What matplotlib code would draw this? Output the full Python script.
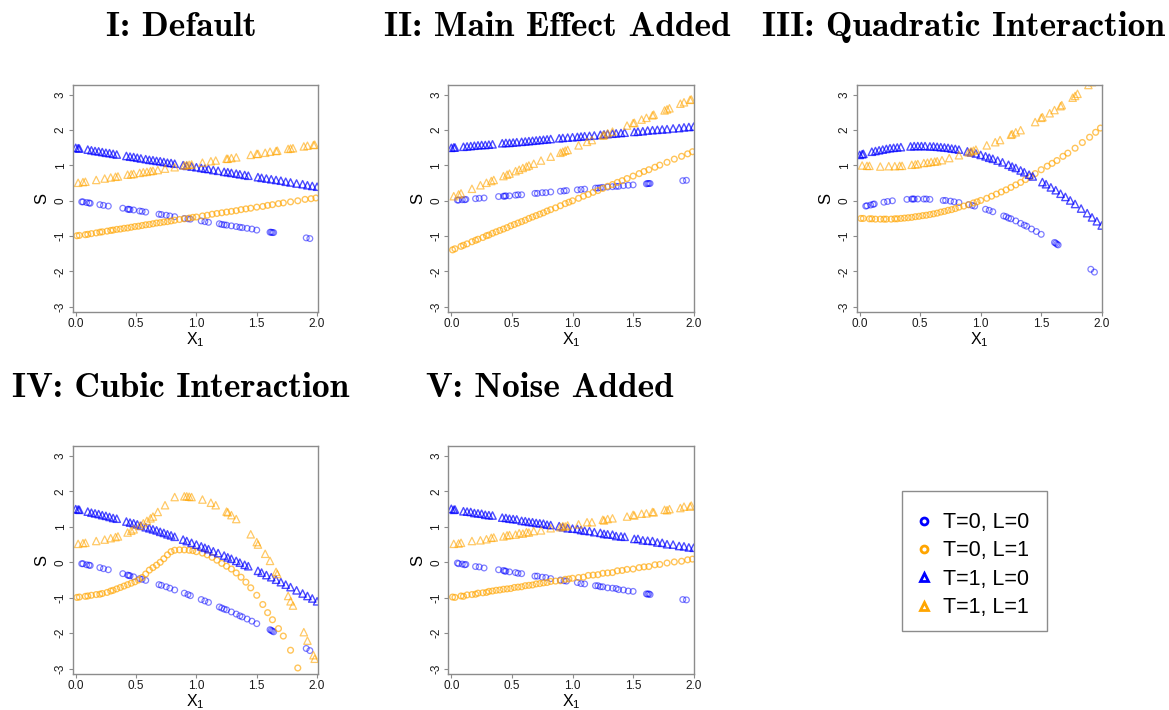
import matplotlib
matplotlib.use("Agg")
import matplotlib.pyplot as plt
from matplotlib.lines import Line2D
from matplotlib.patches import Rectangle
from matplotlib.colors import to_rgba

plt.rcParams['font.family'] = ['Liberation Sans', 'DejaVu Sans']
plt.rcParams['mathtext.default'] = 'regular'

# sampled X1 values for each group (shared by all five panels)
x_circ_blue = [0.05, 0.06, 0.09, 0.11, 0.12, 0.20, 0.23, 0.27, 0.39, 0.43, 0.44, 0.45, 0.48, 0.53, 0.55,
               0.58, 0.69, 0.71, 0.75, 0.78, 0.82, 0.90, 0.93, 0.95, 1.04, 1.07, 1.10, 1.19, 1.21, 1.23,
               1.25, 1.29, 1.33, 1.36, 1.38, 1.42, 1.46, 1.50, 1.61, 1.62, 1.63, 1.64, 1.91, 1.94]
x_circ_orange = [0.01, 0.03, 0.08, 0.10, 0.13, 0.17, 0.20, 0.22, 0.26, 0.29, 0.31, 0.34, 0.37, 0.40, 0.43,
                 0.46, 0.49, 0.52, 0.55, 0.58, 0.61, 0.64, 0.67, 0.70, 0.73, 0.76, 0.79, 0.82, 0.86, 0.90,
                 0.94, 0.97, 1.00, 1.05, 1.09, 1.13, 1.17, 1.21, 1.25, 1.29, 1.33, 1.37, 1.41, 1.45, 1.50,
                 1.55, 1.59, 1.63, 1.68, 1.72, 1.78, 1.84, 1.90, 1.95, 1.99]
x_tri_blue = [0.00, 0.02, 0.03, 0.10, 0.13, 0.16, 0.19, 0.22, 0.25, 0.28, 0.31, 0.34, 0.42, 0.45, 0.48,
              0.51, 0.54, 0.58, 0.61, 0.64, 0.67, 0.70, 0.73, 0.76, 0.79, 0.82, 0.89, 0.92, 0.96, 1.00,
              1.04, 1.07, 1.10, 1.14, 1.18, 1.23, 1.26, 1.29, 1.33, 1.36, 1.40, 1.43, 1.51, 1.54, 1.58,
              1.62, 1.66, 1.70, 1.74, 1.78, 1.83, 1.88, 1.92, 1.96, 2.00]
x_tri_orange = [0.02, 0.06, 0.08, 0.17, 0.24, 0.29, 0.33, 0.35, 0.43, 0.46, 0.48, 0.53, 0.56, 0.59, 0.62,
                0.64, 0.68, 0.74, 0.82, 0.90, 0.92, 0.94, 0.96, 1.05, 1.12, 1.16, 1.25, 1.26, 1.29, 1.33,
                1.45, 1.50, 1.51, 1.57, 1.61, 1.66, 1.67, 1.76, 1.78, 1.80, 1.89, 1.92, 1.97, 1.98]

# I: Default
s1_circ_blue = [-0.03, -0.03, -0.05, -0.06, -0.07, -0.11, -0.13, -0.15, -0.21, -0.24, -0.24, -0.25, -0.26, -0.29, -0.30,
                -0.32, -0.38, -0.39, -0.41, -0.43, -0.45, -0.50, -0.51, -0.52, -0.57, -0.59, -0.61, -0.65, -0.67, -0.68,
                -0.69, -0.71, -0.73, -0.75, -0.76, -0.78, -0.80, -0.83, -0.89, -0.89, -0.90, -0.90, -1.05, -1.07]
s1_circ_orange = [-0.99, -0.98, -0.96, -0.95, -0.93, -0.91, -0.89, -0.88, -0.86, -0.84, -0.83, -0.81, -0.80, -0.78, -0.77,
                  -0.75, -0.73, -0.72, -0.70, -0.68, -0.67, -0.65, -0.63, -0.62, -0.60, -0.59, -0.57, -0.55, -0.53, -0.51,
                  -0.49, -0.47, -0.46, -0.43, -0.41, -0.38, -0.36, -0.34, -0.32, -0.30, -0.28, -0.25, -0.23, -0.21, -0.18,
                  -0.16, -0.13, -0.11, -0.08, -0.06, -0.03, 0.00, 0.04, 0.06, 0.08]
s1_tri_blue = [1.50, 1.49, 1.48, 1.45, 1.43, 1.41, 1.40, 1.38, 1.36, 1.35, 1.33, 1.31, 1.27, 1.25, 1.24,
               1.22, 1.20, 1.18, 1.16, 1.15, 1.13, 1.12, 1.10, 1.08, 1.07, 1.05, 1.01, 0.99, 0.97, 0.95,
               0.93, 0.91, 0.90, 0.87, 0.85, 0.82, 0.81, 0.79, 0.77, 0.75, 0.73, 0.71, 0.67, 0.65, 0.63,
               0.61, 0.59, 0.57, 0.54, 0.52, 0.49, 0.47, 0.44, 0.42, 0.40]
s1_tri_orange = [0.51, 0.53, 0.54, 0.59, 0.63, 0.66, 0.68, 0.69, 0.74, 0.75, 0.76, 0.79, 0.81, 0.82, 0.84,
                 0.85, 0.87, 0.91, 0.95, 1.00, 1.01, 1.02, 1.03, 1.08, 1.12, 1.14, 1.19, 1.19, 1.21, 1.23,
                 1.30, 1.33, 1.33, 1.36, 1.39, 1.41, 1.42, 1.47, 1.48, 1.49, 1.54, 1.56, 1.58, 1.59]

# II: Main Effect Added
s2_circ_blue = [0.02, 0.02, 0.03, 0.03, 0.04, 0.06, 0.07, 0.08, 0.12, 0.13, 0.13, 0.14, 0.14, 0.16, 0.17,
                0.17, 0.21, 0.21, 0.23, 0.23, 0.25, 0.27, 0.28, 0.29, 0.31, 0.32, 0.33, 0.36, 0.36, 0.37,
                0.38, 0.39, 0.40, 0.41, 0.41, 0.43, 0.44, 0.45, 0.48, 0.49, 0.49, 0.49, 0.57, 0.58]
s2_circ_orange = [-1.39, -1.36, -1.29, -1.26, -1.22, -1.16, -1.12, -1.09, -1.04, -0.99, -0.97, -0.92, -0.88, -0.84, -0.80,
                  -0.76, -0.71, -0.67, -0.63, -0.59, -0.55, -0.50, -0.46, -0.42, -0.38, -0.34, -0.29, -0.25, -0.20, -0.14,
                  -0.08, -0.04, 0.00, 0.07, 0.13, 0.18, 0.24, 0.29, 0.35, 0.41, 0.46, 0.52, 0.57, 0.63, 0.70,
                  0.77, 0.83, 0.88, 0.95, 1.01, 1.09, 1.18, 1.26, 1.33, 1.39]
s2_tri_blue = [1.50, 1.51, 1.51, 1.53, 1.54, 1.55, 1.56, 1.57, 1.58, 1.58, 1.59, 1.60, 1.63, 1.64, 1.64,
               1.65, 1.66, 1.67, 1.68, 1.69, 1.70, 1.71, 1.72, 1.73, 1.74, 1.75, 1.77, 1.78, 1.79, 1.80,
               1.81, 1.82, 1.83, 1.84, 1.85, 1.87, 1.88, 1.89, 1.90, 1.91, 1.92, 1.93, 1.95, 1.96, 1.97,
               1.99, 2.00, 2.01, 2.02, 2.03, 2.05, 2.06, 2.08, 2.09, 2.10]
s2_tri_orange = [0.13, 0.18, 0.21, 0.34, 0.44, 0.51, 0.56, 0.59, 0.70, 0.74, 0.77, 0.84, 0.88, 0.93, 0.97,
                 1.00, 1.05, 1.14, 1.25, 1.36, 1.39, 1.42, 1.44, 1.57, 1.67, 1.72, 1.85, 1.86, 1.91, 1.96,
                 2.13, 2.20, 2.21, 2.30, 2.35, 2.42, 2.44, 2.56, 2.59, 2.62, 2.75, 2.79, 2.86, 2.87]

# III: Quadratic Interaction
s3_circ_blue = [-0.15, -0.14, -0.12, -0.10, -0.09, -0.04, -0.02, 0.00, 0.04, 0.05, 0.05, 0.05, 0.05, 0.05, 0.05,
                0.04, 0.01, 0.01, -0.01, -0.03, -0.05, -0.11, -0.13, -0.15, -0.24, -0.27, -0.31, -0.43, -0.45, -0.49,
                -0.51, -0.57, -0.64, -0.69, -0.72, -0.80, -0.87, -0.95, -1.18, -1.20, -1.23, -1.25, -1.94, -2.02]
s3_circ_orange = [-0.50, -0.50, -0.51, -0.51, -0.52, -0.52, -0.52, -0.52, -0.52, -0.51, -0.51, -0.50, -0.49, -0.48, -0.47,
                  -0.45, -0.44, -0.42, -0.41, -0.39, -0.37, -0.35, -0.32, -0.30, -0.27, -0.25, -0.22, -0.18, -0.15, -0.11,
                  -0.06, -0.03, 0.01, 0.07, 0.13, 0.19, 0.25, 0.31, 0.38, 0.45, 0.52, 0.60, 0.68, 0.77, 0.88,
                  0.98, 1.06, 1.14, 1.26, 1.35, 1.49, 1.65, 1.80, 1.94, 2.06]
s3_tri_blue = [1.30, 1.32, 1.33, 1.39, 1.41, 1.43, 1.45, 1.47, 1.49, 1.50, 1.51, 1.52, 1.54, 1.55, 1.55,
               1.55, 1.55, 1.54, 1.54, 1.53, 1.52, 1.51, 1.50, 1.48, 1.47, 1.45, 1.40, 1.37, 1.34, 1.30,
               1.26, 1.22, 1.19, 1.14, 1.09, 1.02, 0.97, 0.93, 0.86, 0.81, 0.74, 0.69, 0.53, 0.47, 0.38,
               0.30, 0.20, 0.11, 0.01, -0.09, -0.22, -0.35, -0.47, -0.58, -0.70]
s3_tri_orange = [1.00, 0.99, 0.99, 0.97, 0.98, 0.98, 0.99, 0.99, 1.02, 1.03, 1.04, 1.07, 1.08, 1.10, 1.11,
                 1.12, 1.15, 1.21, 1.29, 1.37, 1.40, 1.42, 1.45, 1.57, 1.66, 1.72, 1.87, 1.89, 1.94, 2.00,
                 2.23, 2.35, 2.37, 2.48, 2.57, 2.68, 2.71, 2.92, 2.97, 3.03, 3.28, 3.36, 3.50, 3.53]

# IV: Cubic Interaction
s4_circ_blue = [-0.04, -0.04, -0.07, -0.08, -0.09, -0.15, -0.18, -0.21, -0.32, -0.36, -0.37, -0.38, -0.41, -0.46, -0.48,
                -0.51, -0.63, -0.65, -0.69, -0.73, -0.78, -0.87, -0.91, -0.94, -1.05, -1.09, -1.13, -1.26, -1.29, -1.32,
                -1.34, -1.40, -1.46, -1.51, -1.54, -1.60, -1.66, -1.73, -1.90, -1.92, -1.94, -1.96, -2.43, -2.49]
s4_circ_orange = [-0.99, -0.98, -0.96, -0.95, -0.93, -0.91, -0.90, -0.88, -0.85, -0.81, -0.79, -0.75, -0.71, -0.67, -0.63,
                  -0.59, -0.55, -0.50, -0.43, -0.33, -0.22, -0.15, -0.08, 0.00, 0.10, 0.21, 0.30, 0.34, 0.35, 0.35,
                  0.34, 0.33, 0.30, 0.26, 0.21, 0.14, 0.06, -0.03, -0.11, -0.19, -0.30, -0.42, -0.56, -0.72, -0.93,
                  -1.19, -1.42, -1.62, -1.87, -2.08, -2.48, -2.98, -3.45, -3.90, -4.20]
s4_tri_blue = [1.50, 1.49, 1.48, 1.43, 1.40, 1.38, 1.36, 1.33, 1.31, 1.28, 1.25, 1.23, 1.15, 1.12, 1.10,
               1.07, 1.03, 0.99, 0.96, 0.93, 0.90, 0.86, 0.83, 0.79, 0.76, 0.72, 0.64, 0.60, 0.55, 0.50,
               0.45, 0.41, 0.37, 0.31, 0.26, 0.19, 0.14, 0.10, 0.04, -0.01, -0.07, -0.11, -0.24, -0.29, -0.36,
               -0.42, -0.49, -0.56, -0.63, -0.70, -0.79, -0.88, -0.95, -1.02, -1.10]
s4_tri_orange = [0.52, 0.54, 0.55, 0.60, 0.64, 0.68, 0.71, 0.73, 0.84, 0.89, 0.93, 1.03, 1.10, 1.17, 1.24,
                 1.29, 1.42, 1.61, 1.84, 1.86, 1.86, 1.85, 1.84, 1.77, 1.68, 1.61, 1.43, 1.41, 1.33, 1.22,
                 0.79, 0.57, 0.50, 0.24, 0.04, -0.27, -0.33, -0.95, -1.10, -1.22, -1.97, -2.21, -2.62, -2.72]

# V: Noise Added
s5_circ_blue = [-0.02, -0.04, -0.05, -0.07, -0.06, -0.12, -0.13, -0.16, -0.21, -0.23, -0.25, -0.25, -0.27, -0.29, -0.31,
                -0.32, -0.39, -0.39, -0.42, -0.43, -0.46, -0.50, -0.52, -0.53, -0.57, -0.60, -0.61, -0.66, -0.66, -0.69,
                -0.69, -0.72, -0.73, -0.74, -0.77, -0.78, -0.81, -0.82, -0.89, -0.90, -0.89, -0.91, -1.05, -1.06]
s5_circ_orange = [-0.98, -0.99, -0.95, -0.96, -0.92, -0.91, -0.90, -0.87, -0.86, -0.85, -0.82, -0.81, -0.79, -0.78, -0.76,
                  -0.75, -0.74, -0.71, -0.70, -0.69, -0.66, -0.65, -0.64, -0.61, -0.60, -0.58, -0.57, -0.54, -0.53, -0.52,
                  -0.48, -0.47, -0.45, -0.43, -0.42, -0.37, -0.36, -0.35, -0.31, -0.30, -0.29, -0.24, -0.23, -0.20, -0.19,
                  -0.15, -0.13, -0.12, -0.07, -0.06, -0.02, 0.01, 0.03, 0.07, 0.09]
s5_tri_blue = [1.51, 1.48, 1.49, 1.44, 1.43, 1.42, 1.39, 1.38, 1.37, 1.34, 1.33, 1.32, 1.26, 1.25, 1.23,
               1.22, 1.21, 1.17, 1.16, 1.14, 1.13, 1.11, 1.10, 1.09, 1.06, 1.05, 1.02, 0.99, 0.96, 0.95,
               0.94, 0.91, 0.89, 0.88, 0.85, 0.83, 0.80, 0.79, 0.78, 0.74, 0.73, 0.72, 0.66, 0.66, 0.62,
               0.61, 0.60, 0.56, 0.55, 0.51, 0.50, 0.46, 0.45, 0.42, 0.41]
s5_tri_orange = [0.52, 0.53, 0.55, 0.60, 0.62, 0.65, 0.69, 0.70, 0.73, 0.76, 0.77, 0.78, 0.82, 0.81, 0.85,
                 0.84, 0.88, 0.90, 0.96, 0.99, 1.02, 1.01, 1.04, 1.07, 1.13, 1.13, 1.20, 1.18, 1.22, 1.24,
                 1.29, 1.34, 1.32, 1.37, 1.38, 1.42, 1.41, 1.48, 1.47, 1.50, 1.53, 1.57, 1.57, 1.60]

titles = ["I: Default", "II: Main Effect Added", "III: Quadratic Interaction",
          "IV: Cubic Interaction", "V: Noise Added"]
legend_labels = ["T=0, L=0", "T=0, L=1", "T=1, L=0", "T=1, L=1"]
x_ticks = [0.0, 0.5, 1.0, 1.5, 2.0]
y_ticks = [-3, -2, -1, 0, 1, 2, 3]

panels = [
    (s1_circ_blue, s1_circ_orange, s1_tri_blue, s1_tri_orange),
    (s2_circ_blue, s2_circ_orange, s2_tri_blue, s2_tri_orange),
    (s3_circ_blue, s3_circ_orange, s3_tri_blue, s3_tri_orange),
    (s4_circ_blue, s4_circ_orange, s4_tri_blue, s4_tri_orange),
    (s5_circ_blue, s5_circ_orange, s5_tri_blue, s5_tri_orange),
]

BLUE = "#0000ff"
ORANGE = "#ffa500"
FRAME = "#8c8c8c"
W, H = 1169, 710

# axes boxes in pixels: left, top, right, bottom
boxes = [(72.7, 85, 317.7, 312), (448.3, 85, 694.3, 312), (856.7, 85, 1102.3, 312),
         (72.7, 446, 317.7, 674), (448.3, 446, 694.3, 674)]
title_pos = [(181, 27), (557, 27), (964, 27), (181, 388), (550, 388)]

fig = plt.figure(figsize=(W / 100, H / 100), dpi=100)

for (l, t, r, b), (cb, co, tb, to) in zip(boxes, panels):
    ax = fig.add_axes([l / W, 1 - b / H, (r - l) / W, (b - t) / H])
    ax.scatter(x_circ_blue, cb, s=17, marker='o', facecolors='none',
               edgecolors=[to_rgba(BLUE, 0.5)], linewidths=0.9)
    ax.scatter(x_circ_orange, co, s=17, marker='o', facecolors='none',
               edgecolors=[to_rgba(ORANGE, 0.65)], linewidths=1.0)
    ax.scatter(x_tri_blue, tb, s=28, marker='^', facecolors='none',
               edgecolors=[to_rgba(BLUE, 0.7)], linewidths=1.0)
    ax.scatter(x_tri_orange, to, s=28, marker='^', facecolors='none',
               edgecolors=[to_rgba(ORANGE, 0.6)], linewidths=0.9)
    ax.set_xlim(-0.025, 2.005)
    ax.set_ylim(-3.15, 3.28)
    ax.set_xticks(x_ticks)
    ax.set_xticklabels(["%.1f" % v for v in x_ticks])
    ax.set_yticks(y_ticks)
    ax.set_yticklabels([str(v) for v in y_ticks])
    ax.tick_params(axis='both', direction='out', length=3.2, width=0.8, color=FRAME,
                   labelsize=8.5, labelcolor='#1a1a1a', pad=1.2)
    ax.tick_params(axis='y', labelrotation=90)
    for lbl in ax.get_yticklabels():
        lbl.set_va('center')
    for sp in ax.spines.values():
        sp.set_color(FRAME)
        sp.set_linewidth(1.0)
    ax.set_xlabel("$X_1$", fontsize=11.5)
    ax.xaxis.set_label_coords(0.5, -18.0 / (b - t))
    ax.set_ylabel("S", fontsize=12)
    ax.yaxis.set_label_coords(-0.095, 0.5)

for (tx, ty), title in zip(title_pos, titles):
    fig.text(tx / W, 1 - ty / H, title, family='cmb10', fontsize=25.5,
             ha='center', va='center')

# legend: entries without frame, box drawn separately
handles = [
    Line2D([], [], ls='none', marker='o', ms=5, mfc='none', mec=BLUE, mew=2),
    Line2D([], [], ls='none', marker='o', ms=5, mfc='none', mec=ORANGE, mew=2),
    Line2D([], [], ls='none', marker='^', ms=6, mfc='none', mec=BLUE, mew=2),
    Line2D([], [], ls='none', marker='^', ms=6, mfc='none', mec=ORANGE, mew=2),
]
fig.legend(handles, legend_labels, loc='upper left',
           bbox_to_anchor=(901.7 / W, 1 - 496 / H), fontsize=15.5,
           frameon=False, handlelength=0.6, handletextpad=0.56,
           labelspacing=0.34, borderpad=0.75, borderaxespad=0)
fig.patches.append(Rectangle((901.7 / W, 1 - 631 / H), 145.5 / W, 140 / H,
                             transform=fig.transFigure, fill=False,
                             edgecolor=FRAME, linewidth=1.0))

fig.savefig("out.png", dpi=100)
